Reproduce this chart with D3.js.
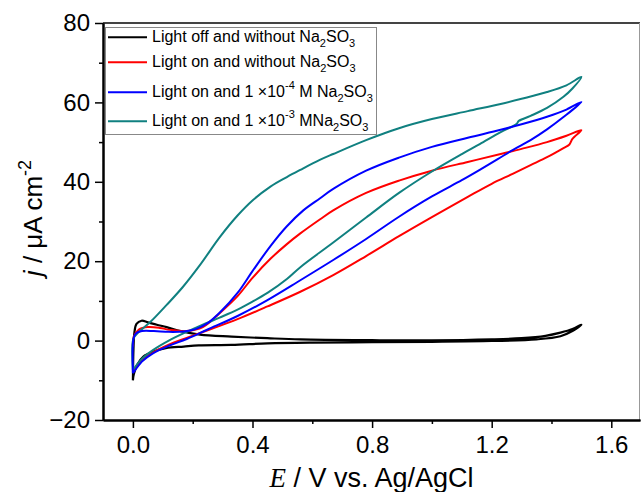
<!DOCTYPE html>
<html>
<head>
<meta charset="utf-8">
<script src="https://cdn.jsdelivr.net/npm/d3@7/dist/d3.min.js"></script>
<style>
  html, body { margin: 0; padding: 0; background: #fff; }
  svg { display: block; }
  text { font-family: "Liberation Sans", Arial, sans-serif; fill: #000; }
</style>
</head>
<body>
<svg id="chart" width="641" height="492"></svg>
<script>
// ---------------- data ----------------
const xTicks = [0.0, 0.4, 0.8, 1.2, 1.6];
const xMinorTicks = [0.2, 0.6, 1.0, 1.4];
const yTicks = [-20, 0, 20, 40, 60, 80];
const yMinorTicks = [-10, 10, 30, 50, 70];

const seriesNames = ["black", "red", "blue", "teal"];
const seriesColors = ["#000000", "#ff0000", "#0000ff", "#108080"];

// Each loop: anodic sweep 0 → 1.5 V, then the return sweep 1.5 → 0 V
const blackE = [0.0, 0.002, 0.005, 0.012, 0.029, 0.05, 0.08, 0.113, 0.16, 0.224, 0.33, 0.45, 0.56, 0.8, 1.0, 1.2, 1.3, 1.38, 1.43, 1.47, 1.5,
                1.47, 1.43, 1.35, 1.2, 1.0, 0.8, 0.6, 0.45, 0.33, 0.22, 0.17, 0.11, 0.067, 0.035, 0.015, 0.003, 0.0];
const blackJ = [-10, -2, 2, 4.2, 5.0, 4.6, 4.0, 3.4, 2.4, 1.5, 1.0, 0.6, 0.3, 0.1, 0.05, 0.3, 0.6, 1.2, 2.0, 2.9, 4.0,
                2.4, 1.1, 0.3, -0.1, -0.3, -0.4, -0.5, -0.7, -1.1, -1.2, -1.5, -1.9, -2.8, -4.0, -6.0, -8.5, -10];

const redE = [0.0, 0.003, 0.02, 0.05, 0.09, 0.124, 0.18, 0.234, 0.29, 0.35, 0.40, 0.46, 0.515, 0.56, 0.625, 0.67, 0.78, 0.89, 1.0, 1.12, 1.23, 1.30, 1.385, 1.45, 1.5,
              1.47, 1.46, 1.44, 1.385, 1.33, 1.27, 1.2, 1.12, 1.0, 0.89, 0.78, 0.67, 0.56, 0.45, 0.35, 0.25, 0.18, 0.12, 0.067, 0.03, 0.0];
const redJ = [-1.5, 1.0, 2.8, 3.4, 3.2, 2.7, 2.4, 3.4, 6.9, 11.2, 15.8, 20.6, 24.3, 27, 30.5, 32.8, 37.2, 40.3, 42.8, 45, 47, 48.3, 50, 51.6, 53,
              50.8, 49.4, 48.5, 46.2, 44.2, 42, 39.5, 36.2, 31.1, 26.3, 21.3, 16.5, 12.3, 8.6, 5.4, 2.6, 0.7, -1.0, -3.0, -5.0, -8.0];

const blueE = [0.0, 0.002, 0.01, 0.03, 0.07, 0.12, 0.17, 0.21, 0.25, 0.29, 0.35, 0.40, 0.46, 0.515, 0.57, 0.625, 0.67, 0.78, 0.89, 1.0, 1.12, 1.23, 1.30, 1.385, 1.45, 1.5,
               1.44, 1.385, 1.33, 1.27, 1.22, 1.16, 1.1, 1.0, 0.89, 0.78, 0.67, 0.56, 0.45, 0.35, 0.25, 0.18, 0.12, 0.067, 0.03, 0.0];
const blueJ = [-8.2, 0.5, 1.8, 2.4, 2.4, 2.2, 2.3, 2.9, 4.4, 7, 12, 17.5, 23.8, 28.8, 32.8, 35.8, 38.2, 42.8, 46.1, 48.8, 51.1, 53.1, 54.5, 56.4, 58.2, 60.1,
               56.3, 53.2, 50.5, 48, 45.7, 43, 40.4, 36.3, 31.2, 25.6, 20.3, 15.2, 10.2, 6.2, 2.8, 0.4, -1.3, -3.2, -5.3, -8.2];

const tealE = [0.0, 0.002, 0.02, 0.057, 0.113, 0.167, 0.224, 0.29, 0.35, 0.40, 0.46, 0.515, 0.56, 0.625, 0.67, 0.78, 0.89, 1.0, 1.12, 1.23, 1.30, 1.385, 1.45, 1.5,
               1.47, 1.44, 1.385, 1.33, 1.29, 1.284, 1.23, 1.16, 1.1, 1.0, 0.89, 0.78, 0.67, 0.56, 0.515, 0.45, 0.40, 0.35, 0.29, 0.23, 0.18, 0.12, 0.067, 0.03, 0.0];
const tealJ = [-7.4, 0.5, 2.2, 4.6, 9.0, 13.5, 19.0, 26.0, 31.5, 35.3, 38.8, 41.2, 43.0, 45.5, 47.0, 50.5, 53.5, 55.8, 57.8, 59.6, 60.9, 62.6, 64.3, 66.4,
               63.5, 61.4, 58.6, 56.6, 55.3, 54.6, 52.5, 49.5, 47.0, 42.6, 37.2, 31.0, 24.7, 18.5, 15.5, 12.0, 9.8, 7.8, 5.8, 3.9, 2.2, 0.0, -2.4, -4.6, -7.4];

const legendLabels = [
  [["Light off and without Na", ""], ["2", "sub"], ["SO", ""], ["3", "sub"]],
  [["Light on and without Na", ""], ["2", "sub"], ["SO", ""], ["3", "sub"]],
  [["Light on and 1 \u00d710", ""], ["-4", "sup"], [" M Na", ""], ["2", "sub"], ["SO", ""], ["3", "sub"]],
  [["Light on and 1 \u00d710", ""], ["-3", "sup"], [" MNa", ""], ["2", "sub"], ["SO", ""], ["3", "sub"]]
];

// ---------------- layout ----------------
const svg = d3.select("#chart");
const plotL = 103, plotR = 640, plotT = 23, plotB = 420;

const x = d3.scaleLinear().domain([-0.1, 1.696]).range([plotL, plotR]);
const y = d3.scaleLinear().domain([-20, 80]).range([plotB, plotT]);

const series = [
  { E: blackE, J: blackJ },
  { E: redE, J: redJ },
  { E: blueE, J: blueJ },
  { E: tealE, J: tealJ }
];

// frame: top & right
svg.append("line").attr("x1", plotL).attr("x2", plotR).attr("y1", plotT).attr("y2", plotT)
  .attr("stroke", "#444").attr("stroke-width", 2);
svg.append("line").attr("x1", plotR - 0.5).attr("x2", plotR - 0.5).attr("y1", plotT).attr("y2", plotB)
  .attr("stroke", "#999").attr("stroke-width", 1);

// curves
const line = d3.line()
  .x((d) => x(d[0]))
  .y((d) => y(d[1]))
  .curve(d3.curveCatmullRom.alpha(0.5));

const drawOrder = [0, 1, 3, 2];
drawOrder.forEach((i) => {
  const s = series[i];
  const pts = s.E.map((e, k) => [e, s.J[k]]);
  svg.append("path")
    .attr("d", line(pts))
    .attr("fill", "none")
    .attr("stroke", seriesColors[i])
    .attr("stroke-width", i === 0 ? 2.2 : 2)
    .attr("stroke-linejoin", "round");
});

// axes
const fontTick = 24;
const yAxis = svg.append("g").attr("transform", `translate(${plotL},0)`)
  .call(d3.axisLeft(y).tickValues(yTicks).tickSize(8).tickSizeOuter(0).tickPadding(5).tickFormat(d3.format("d")));
const yMinor = svg.append("g").attr("transform", `translate(${plotL},0)`)
  .call(d3.axisLeft(y).tickValues(yMinorTicks).tickSize(4).tickSizeOuter(0).tickFormat(""));
const xAxis = svg.append("g").attr("transform", `translate(0,${plotB})`)
  .call(d3.axisBottom(x).tickValues(xTicks).tickSize(8).tickSizeOuter(0).tickPadding(8).tickFormat(d3.format(".1f")));
const xMinor = svg.append("g").attr("transform", `translate(0,${plotB})`)
  .call(d3.axisBottom(x).tickValues(xMinorTicks).tickSize(4).tickSizeOuter(0).tickFormat(""));

[yAxis, yMinor, xAxis, xMinor].forEach((g) => {
  g.selectAll(".domain").attr("stroke", "#000").attr("stroke-width", 2);
  g.selectAll(".tick line").attr("stroke", "#000").attr("stroke-width", 1.5);
  g.selectAll("text").attr("font-size", fontTick).attr("font-family", '"Liberation Sans", Arial, sans-serif').attr("fill", "#000");
});

// axis titles
const xt = svg.append("text").attr("x", (plotL + plotR) / 2).attr("y", 487)
  .attr("text-anchor", "middle").attr("font-size", 27);
xt.append("tspan").attr("font-family", '"Liberation Serif", "Times New Roman", serif').attr("font-style", "italic").text("E");
xt.append("tspan").text(" / V vs. Ag/AgCl");

const yt = svg.append("text")
  .attr("transform", "translate(42,218) rotate(-90)")
  .attr("text-anchor", "middle").attr("font-size", 26);
yt.append("tspan").attr("font-style", "italic").text("j");
yt.append("tspan").text(" / \u03bcA cm");
yt.append("tspan").attr("font-size", 18).attr("dy", -11).text("-2");

// legend
const lg = svg.append("g");
lg.append("rect").attr("x", 105.5).attr("y", 27.5).attr("width", 271).attr("height", 107)
  .attr("fill", "#fff").attr("stroke", "#888").attr("stroke-width", 1);
const baselines = [41.7, 66.7, 96.7, 125.7];
legendLabels.forEach((parts, i) => {
  const by = baselines[i];
  lg.append("line").attr("x1", 108).attr("x2", 147).attr("y1", by - 4.5).attr("y2", by - 4.5)
    .attr("stroke", seriesColors[i]).attr("stroke-width", 2);
  const t = lg.append("text").attr("x", 152).attr("y", by).attr("font-size", 16);
  let shift = 0;
  parts.forEach(([str, kind]) => {
    const sp = t.append("tspan").text(str);
    let target = 0;
    if (kind === "sub") { sp.attr("font-size", 11); target = 5; }
    else if (kind === "sup") { sp.attr("font-size", 11); target = -8; }
    sp.attr("dy", target - shift);
    shift = target;
  });
});
</script>
</body>
</html>
